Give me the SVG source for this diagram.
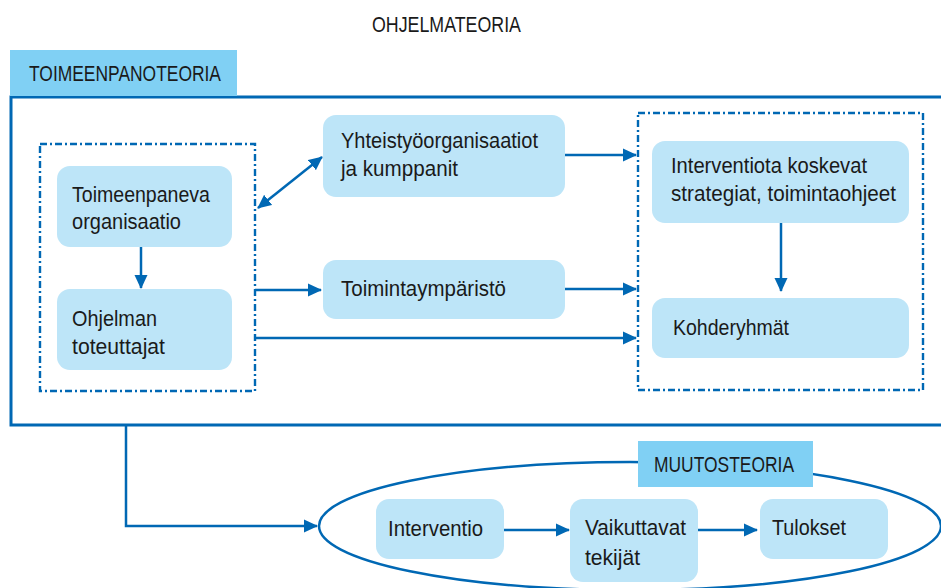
<svg xmlns="http://www.w3.org/2000/svg" width="941" height="588" viewBox="0 0 941 588">
<defs>
<marker id="ah" markerUnits="userSpaceOnUse" markerWidth="14" markerHeight="14" refX="13" refY="7" orient="auto-start-reverse" viewBox="0 0 14 14">
<path d="M0,0.5 L14,7 L0,13.5 Z" fill="#0068b4"/>
</marker>
<style>
text{font-family:"Liberation Sans",Arial,sans-serif;fill:#1a1a1a;font-size:22px}
.lbl{font-size:22px}
.box{fill:#bde5f8}
.tag{fill:#80d0f4}
.frame{fill:none;stroke:#0068b4;stroke-width:3}
.dash{fill:none;stroke:#0068b4;stroke-width:2.4;stroke-dasharray:7 3 2 3}
.c{fill:none;stroke:#0068b4;stroke-width:2.5}
</style>
</defs>
<rect width="941" height="588" fill="#fff"/>
<text class="lbl" x="372" y="32" textLength="149" lengthAdjust="spacingAndGlyphs">OHJELMATEORIA</text>

<g id="toimeenpanoteoria">
<path class="frame" d="M941,97 H11 V425 H941"/>
<rect class="tag" x="10" y="50" width="227" height="46"/>
<text class="lbl" x="29" y="81" textLength="192" lengthAdjust="spacingAndGlyphs">TOIMEENPANOTEORIA</text>
</g>

<g id="left-group"><rect class="dash" x="40" y="144" width="215" height="247"/></g>
<g id="right-group"><rect class="dash" x="638" y="113" width="285" height="277"/></g>

<g id="toimeenpaneva">
<rect class="box" x="57" y="166" width="175" height="81" rx="13"/>
<text x="72" y="202" textLength="138" lengthAdjust="spacingAndGlyphs">Toimeenpaneva</text>
<text x="72" y="229" textLength="109" lengthAdjust="spacingAndGlyphs">organisaatio</text>
</g>
<g id="toteuttajat">
<rect class="box" x="57" y="289" width="175" height="81" rx="13"/>
<text x="72" y="326" textLength="85" lengthAdjust="spacingAndGlyphs">Ohjelman</text>
<text x="72" y="354" textLength="93" lengthAdjust="spacingAndGlyphs">toteuttajat</text>
</g>
<g id="yhteistyo">
<rect class="box" x="323" y="115" width="242" height="82" rx="13"/>
<text x="341" y="148" textLength="197" lengthAdjust="spacingAndGlyphs">Yhteistyöorganisaatiot</text>
<text x="341" y="176" textLength="117" lengthAdjust="spacingAndGlyphs">ja kumppanit</text>
</g>
<g id="toimintaymparisto">
<rect class="box" x="323" y="260" width="242" height="59" rx="13"/>
<text x="341" y="296" textLength="165" lengthAdjust="spacingAndGlyphs">Toimintaympäristö</text>
</g>
<g id="strategiat">
<rect class="box" x="652" y="141" width="257" height="82" rx="13"/>
<text x="671" y="173" textLength="196" lengthAdjust="spacingAndGlyphs">Interventiota koskevat</text>
<text x="671" y="201" textLength="225" lengthAdjust="spacingAndGlyphs">strategiat, toimintaohjeet</text>
</g>
<g id="kohderyhmat">
<rect class="box" x="652" y="298" width="257" height="60" rx="13"/>
<text x="673" y="335" textLength="116" lengthAdjust="spacingAndGlyphs">Kohderyhmät</text>
</g>

<g id="muutosteoria">
<ellipse cx="630" cy="526" rx="311" ry="64" fill="none" stroke="#0068b4" stroke-width="2.5"/>
<rect class="tag" x="638" y="441" width="175" height="46"/>
<text class="lbl" x="654" y="472" textLength="140" lengthAdjust="spacingAndGlyphs">MUUTOSTEORIA</text>
</g>
<g id="interventio">
<rect class="box" x="376" y="499" width="128" height="60" rx="13"/>
<text x="388" y="536" textLength="95" lengthAdjust="spacingAndGlyphs">Interventio</text>
</g>
<g id="vaikuttavat">
<rect class="box" x="570" y="499" width="128" height="83" rx="13"/>
<text x="585" y="535" textLength="101" lengthAdjust="spacingAndGlyphs">Vaikuttavat</text>
<text x="585" y="565" textLength="55" lengthAdjust="spacingAndGlyphs">tekijät</text>
</g>
<g id="tulokset">
<rect class="box" x="760" y="499" width="128" height="60" rx="13"/>
<text x="772" y="535" textLength="74" lengthAdjust="spacingAndGlyphs">Tulokset</text>
</g>

<g id="connectors">
<line class="c" x1="141" y1="247" x2="141" y2="288" marker-end="url(#ah)"/>
<line class="c" x1="258" y1="208" x2="322" y2="157" marker-start="url(#ah)" marker-end="url(#ah)"/>
<line class="c" x1="255" y1="290" x2="321" y2="290" marker-end="url(#ah)"/>
<line class="c" x1="565" y1="155" x2="636" y2="155" marker-end="url(#ah)"/>
<line class="c" x1="565" y1="289" x2="636" y2="289" marker-end="url(#ah)"/>
<line class="c" x1="255" y1="338" x2="636" y2="338" marker-end="url(#ah)"/>
<line class="c" x1="781" y1="223" x2="781" y2="291" marker-end="url(#ah)"/>
<path class="c" d="M126,425 V526 H317" marker-end="url(#ah)"/>
<line class="c" x1="504" y1="530" x2="569" y2="530" marker-end="url(#ah)"/>
<line class="c" x1="698" y1="530" x2="757" y2="530" marker-end="url(#ah)"/>
</g>
</svg>
